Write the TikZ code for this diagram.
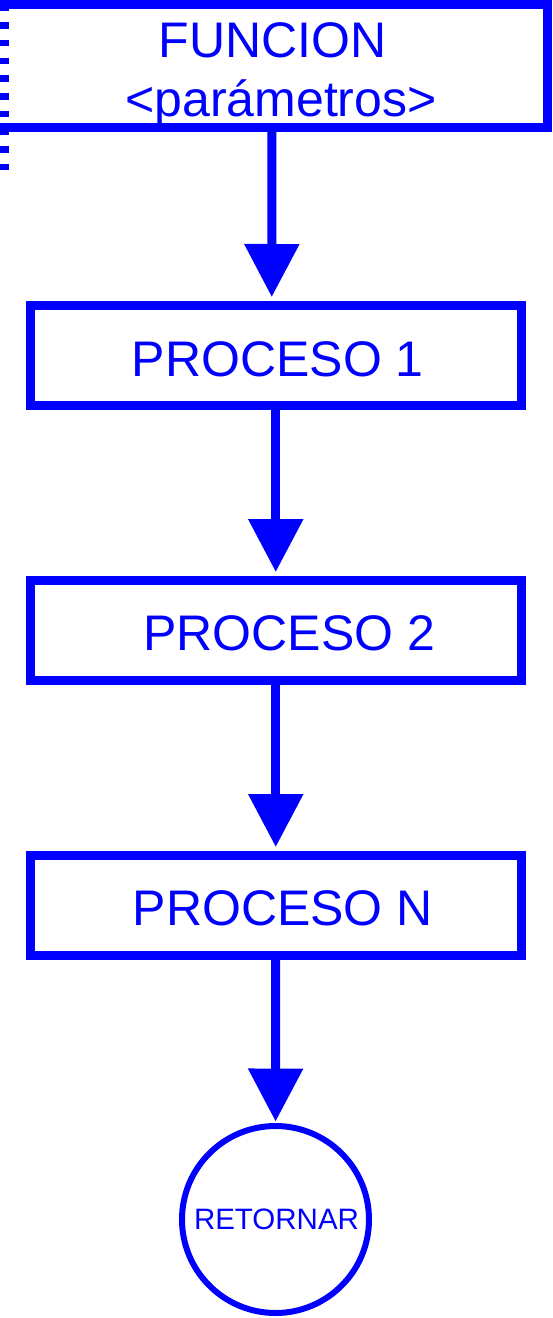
\documentclass[tikz,border=0pt]{standalone}
\usepackage{fontspec}
\setmainfont{Liberation Sans}
\usetikzlibrary{arrows.meta,positioning}

\begin{document}
\begin{tikzpicture}[x=1pt, y=-1pt,
    caja/.style={draw=blue, line width=9pt, minimum width=490.5pt, minimum height=100pt, inner sep=0pt, outer sep=0pt},
    texto/.style={text=blue, inner sep=0pt, font=\fontsize{50}{60}\selectfont},
    flecha/.style={draw=blue, line width=9pt, -{Triangle[length=53pt, width=53pt]}, shorten >=8pt}]

    \useasboundingbox (0,0) rectangle (552,1318);

    % cabecera: la funcion con sus parametros (lado izquierdo punteado)
    \node[minimum width=543pt, minimum height=122.8pt, inner sep=0pt, outer sep=0pt,
          label={[texto, xshift=-3.5pt, yshift=26pt]center:FUNCION},
          label={[texto, xshift=5pt, yshift=-37pt]center:<parámetros>}] (fun) at (276,65.9) {};
    \draw[blue, line width=9pt, line cap=rect] (fun.north west) -- (fun.north east) -- (fun.south east) -- (fun.south west);
    \coordinate (finpunto) at (4.5,172);
    \draw[blue, line width=8.5pt, dash pattern=on 6.5pt off 11.2pt] (fun.north west) -- (finpunto);

    % procesos
    \node[caja, label={[texto, xshift=2pt, yshift=-4pt]center:PROCESO 1}] (p1) at (275.75,355) {};
    \node[caja, label={[texto, xshift=13.5pt, yshift=-3pt]center:PROCESO 2}] (p2) at (275.75,630) {};
    \node[caja, label={[texto, xshift=7pt, yshift=-3pt]center:PROCESO N}] (pn) at (275.75,905) {};

    % retorno
    \node[circle, draw=blue, line width=6pt, minimum size=187pt, inner sep=0pt, outer sep=0pt,
          label={[texto, font=\fontsize{29.5}{34}\selectfont, xshift=1pt]center:RETORNAR}] (ret) at (275.5,1219.5) {};

    \draw[flecha] ([xshift=-4pt]fun.south) -- ([xshift=-4pt]p1.north);
    \draw[flecha] (p1) -- (p2);
    \draw[flecha] (p2) -- (pn);
    \draw[flecha, shorten >=4.5pt] (pn) -- (ret);
\end{tikzpicture}
\end{document}
